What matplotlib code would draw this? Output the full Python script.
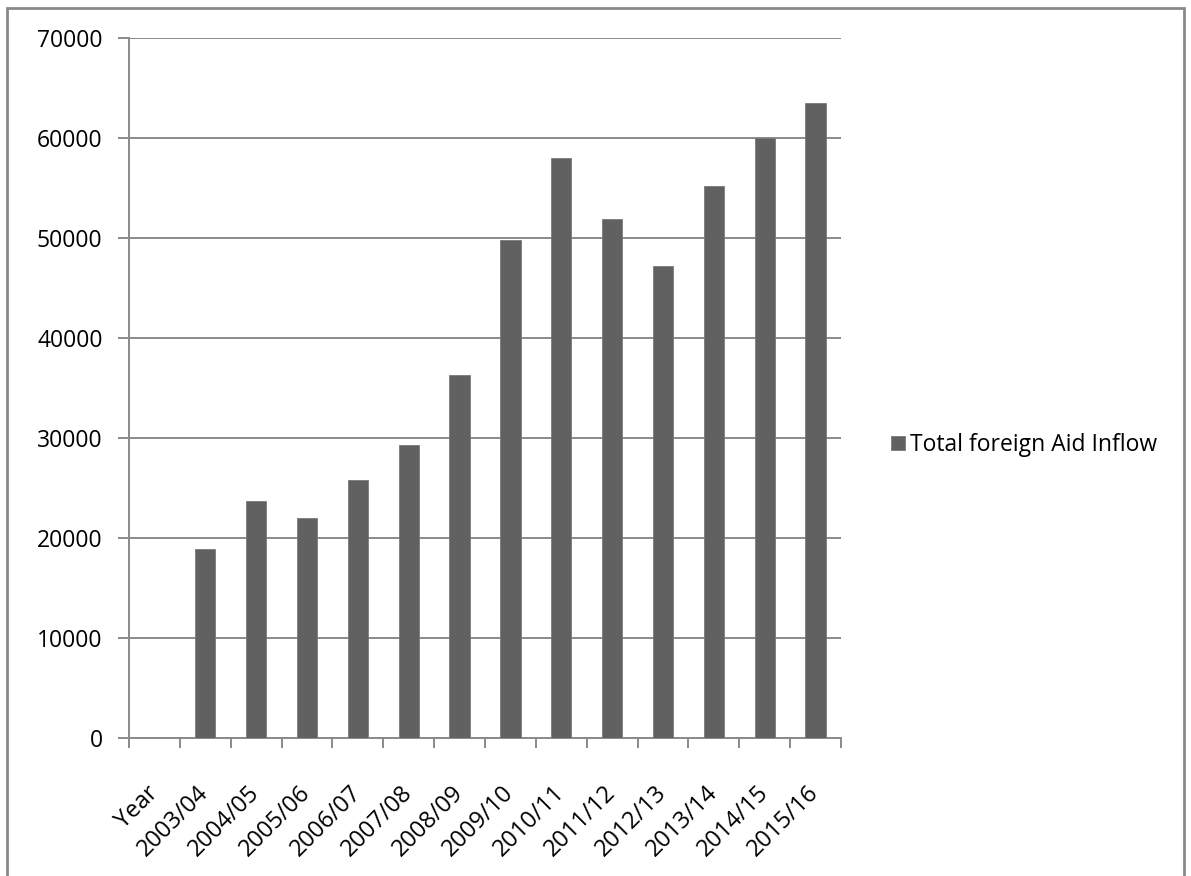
import matplotlib
matplotlib.use("Agg")
import matplotlib.pyplot as plt
from matplotlib.patches import Rectangle
import numpy as np

# Data
categories = ["Year", "2003/04", "2004/05", "2005/06", "2006/07", "2007/08",
              "2008/09", "2009/10", "2010/11", "2011/12", "2012/13",
              "2013/14", "2014/15", "2015/16"]
aid_inflow = [0, 18900, 23700, 22000, 25800, 29300, 36300, 49800,
              58000, 51900, 47200, 55200, 60000, 63500]
series_name = "Total foreign Aid Inflow"
y_ticks = [0, 10000, 20000, 30000, 40000, 50000, 60000, 70000]

bar_color = "#616161"
grid_color = "#8a8a8a"
plt.rcParams["font.family"] = ["Open Sans", "DejaVu Sans"]
FS = 16.5

fig = plt.figure(figsize=(11.91, 8.76), dpi=100)
ax = fig.add_axes([129 / 1191, 1 - 738.3 / 876, (841 - 129) / 1191, 700 / 876])

x = np.arange(len(categories))
bars = ax.bar(x, aid_inflow, width=0.4, color=bar_color, edgecolor="#7a7a7a",
              linewidth=0.6, label=series_name, zorder=3)

ax.set_xlim(-0.5, len(categories) - 0.5)
ax.set_ylim(0, 70000)
ax.set_yticks(y_ticks)
ax.set_yticklabels([str(v) for v in y_ticks], fontsize=FS)
ax.yaxis.grid(True, color=grid_color, linewidth=1.4, zorder=0)
ax.set_axisbelow(True)

# Category labels centred on each bar, tick marks between categories
ax.set_xticks(x)
ax.set_xticklabels(categories, rotation=45, ha="right", va="center",
                   rotation_mode="anchor", fontsize=17)
ax.tick_params(axis="x", length=0, pad=37)
ax.set_xticks(np.arange(len(categories) + 1) - 0.5, minor=True)
ax.tick_params(axis="x", which="minor", length=7, width=1.4, color=grid_color)
ax.tick_params(axis="y", length=8, width=1.4, color=grid_color, pad=11)

for side in ["top", "right"]:
    ax.spines[side].set_visible(False)
for side in ["left", "bottom"]:
    ax.spines[side].set_color(grid_color)
    ax.spines[side].set_linewidth(1.4)

leg = fig.legend(handles=[bars], labels=[series_name], loc="center left",
                 bbox_to_anchor=(882 / 1191, 1 - 445 / 876), frameon=False,
                 fontsize=FS, handlelength=0.6, handleheight=0.6,
                 handletextpad=0.2, borderaxespad=0)

# Outer chart frame
fig.patches.append(Rectangle((7 / 1191, -0.01), (1184 - 7) / 1191, 1 - 8 / 876 + 0.01,
                             transform=fig.transFigure, fill=False,
                             edgecolor="#8a8a8a", linewidth=2))

fig.savefig("out.png", dpi=100)
